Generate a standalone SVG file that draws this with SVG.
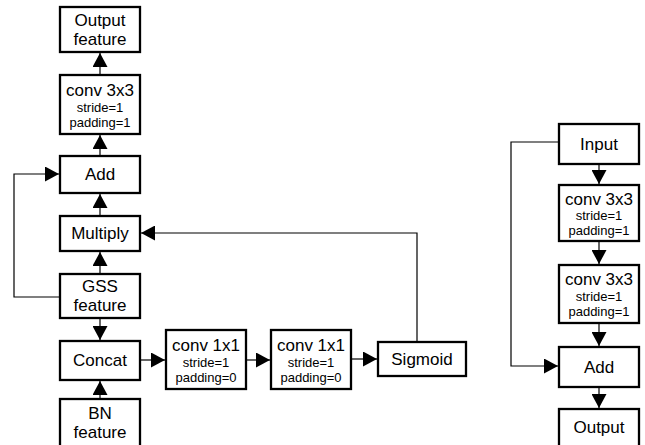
<svg xmlns="http://www.w3.org/2000/svg" width="645" height="445" viewBox="0 0 645 445">
  <style>
    .box { fill: #fff; stroke: #000; stroke-width: 2.3; }
    .t { font-family: "Liberation Sans", Arial, sans-serif; font-size: 17px; fill: #000; text-anchor: middle; }
    .s { font-family: "Liberation Sans", Arial, sans-serif; font-size: 13px; fill: #000; text-anchor: middle; }
    .link { fill: none; stroke: #000; stroke-width: 1.2; marker-end: url(#head); }
  </style>
  <defs>
    <marker id="head" markerUnits="userSpaceOnUse" markerWidth="14" markerHeight="15" refX="14" refY="7.5" orient="auto">
      <path d="M0,0 L14,7.5 L0,15 Z" fill="#000"/>
    </marker>
  </defs>
  <rect width="645" height="445" fill="#fff"/>

  <!-- connectors -->
  <g id="connectors">
    <path class="link" d="M100,75 V53"/>
    <path class="link" d="M100,156 V135"/>
    <path class="link" d="M100,216 V194"/>
    <path class="link" d="M100,274 V252"/>
    <path class="link" d="M100,318 V340"/>
    <path class="link" d="M100,399 V381"/>
    <path class="link" d="M140,360 H165"/>
    <path class="link" d="M246,360 H270"/>
    <path class="link" d="M351,359 H377"/>
    <path class="link" d="M417,342 V233 H141"/>
    <path class="link" d="M60,297 H14 V174 H59"/>
    <path class="link" d="M599,164 V184"/>
    <path class="link" d="M599,241 V264"/>
    <path class="link" d="M599,323 V346"/>
    <path class="link" d="M599,387 V408"/>
    <path class="link" d="M559,142 H511 V366 H558"/>
  </g>

  <!-- left branch -->
  <g id="output-feature">
    <rect class="box" x="60" y="7" width="80" height="45"/>
    <text class="t" x="100" y="26">Output</text>
    <text class="t" x="100" y="45">feature</text>
  </g>
  <g id="conv3-left">
    <rect class="box" x="60" y="75" width="80" height="59"/>
    <text class="t" x="100" y="96">conv 3x3</text>
    <text class="s" x="100" y="112">stride=1</text>
    <text class="s" x="100" y="127">padding=1</text>
  </g>
  <g id="add-left">
    <rect class="box" x="60" y="156" width="80" height="37"/>
    <text class="t" x="100" y="180">Add</text>
  </g>
  <g id="multiply">
    <rect class="box" x="60" y="216" width="80" height="35"/>
    <text class="t" x="100" y="239">Multiply</text>
  </g>
  <g id="gss-feature">
    <rect class="box" x="60" y="274" width="80" height="44"/>
    <text class="t" x="100" y="292">GSS</text>
    <text class="t" x="100" y="311">feature</text>
  </g>
  <g id="concat">
    <rect class="box" x="60" y="341" width="80" height="39"/>
    <text class="t" x="100" y="366">Concat</text>
  </g>
  <g id="bn-feature">
    <rect class="box" x="60" y="399" width="80" height="52"/>
    <text class="t" x="100" y="419">BN</text>
    <text class="t" x="100" y="438">feature</text>
  </g>
  <g id="conv1-a">
    <rect class="box" x="166" y="330" width="80" height="59"/>
    <text class="t" x="206" y="351">conv 1x1</text>
    <text class="s" x="206" y="367">stride=1</text>
    <text class="s" x="206" y="382">padding=0</text>
  </g>
  <g id="conv1-b">
    <rect class="box" x="271" y="330" width="80" height="59"/>
    <text class="t" x="311" y="351">conv 1x1</text>
    <text class="s" x="311" y="367">stride=1</text>
    <text class="s" x="311" y="382">padding=0</text>
  </g>
  <g id="sigmoid">
    <rect class="box" x="378" y="342" width="88" height="34"/>
    <text class="t" x="422" y="365">Sigmoid</text>
  </g>

  <!-- right branch: residual block -->
  <g id="input">
    <rect class="box" x="559" y="124" width="80" height="40"/>
    <text class="t" x="599" y="150">Input</text>
  </g>
  <g id="conv3-right-a">
    <rect class="box" x="559" y="185" width="80" height="56"/>
    <text class="t" x="599" y="205">conv 3x3</text>
    <text class="s" x="599" y="220">stride=1</text>
    <text class="s" x="599" y="235">padding=1</text>
  </g>
  <g id="conv3-right-b">
    <rect class="box" x="559" y="265" width="80" height="58"/>
    <text class="t" x="599" y="285">conv 3x3</text>
    <text class="s" x="599" y="301">stride=1</text>
    <text class="s" x="599" y="316">padding=1</text>
  </g>
  <g id="add-right">
    <rect class="box" x="559" y="347" width="80" height="40"/>
    <text class="t" x="599" y="373">Add</text>
  </g>
  <g id="output">
    <rect class="box" x="559" y="409" width="80" height="45"/>
    <text class="t" x="599" y="433">Output</text>
  </g>
</svg>
